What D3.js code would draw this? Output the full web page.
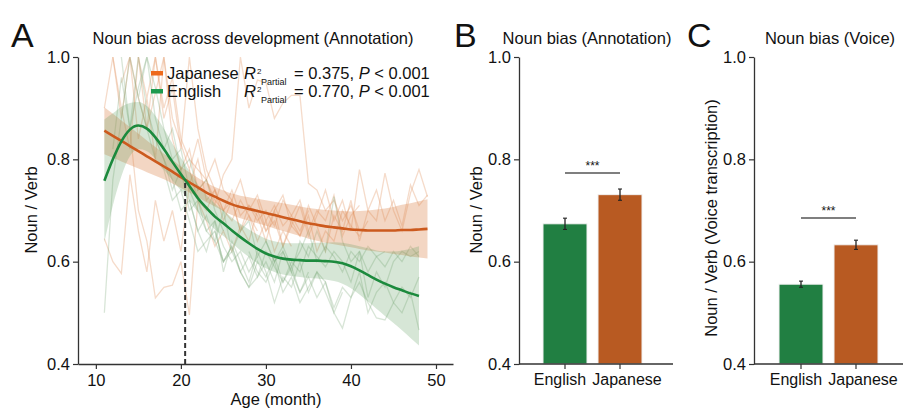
<!DOCTYPE html>
<html><head><meta charset="utf-8">
<script src="https://cdn.jsdelivr.net/npm/d3@7"></script>
<style>
body{margin:0;background:#fff}
svg{display:block}
text{font-family:"Liberation Sans",Arial,sans-serif;fill:#111}
</style>
</head><body>
<svg id="c" width="903" height="410"></svg>
<script>
// ---------------- DATA ----------------
const yTicks = [0.4, 0.6, 0.8, 1.0];
const ageTicks = [10, 20, 30, 40, 50];
const splitAge = 20.5;

// Japanese GAM fit, ages 11..49
const jpFitStart = 11;
const jpFit = [0.856,0.846,0.836,0.826,0.816,0.806,0.796,0.786,0.776,0.765,0.755,0.745,0.735,0.727,0.719,0.712,0.707,0.703,0.699,0.695,0.691,0.687,0.683,0.679,0.675,0.672,0.669,0.667,0.665,0.663,0.662,0.661,0.661,0.661,0.661,0.662,0.662,0.663,0.664];
const jpCI  = [0.046,0.043,0.040,0.037,0.034,0.031,0.028,0.025,0.023,0.021,0.020,0.019,0.019,0.019,0.020,0.021,0.022,0.023,0.024,0.025,0.026,0.027,0.028,0.029,0.030,0.031,0.032,0.033,0.034,0.035,0.037,0.039,0.041,0.043,0.046,0.049,0.052,0.055,0.058];

// English GAM fit, ages 11..48
const enFitStart = 11;
const enFit = [0.758,0.800,0.835,0.858,0.866,0.860,0.843,0.820,0.795,0.771,0.748,0.724,0.705,0.688,0.675,0.661,0.648,0.636,0.625,0.616,0.610,0.606,0.604,0.603,0.602,0.602,0.601,0.600,0.597,0.591,0.583,0.574,0.565,0.557,0.550,0.544,0.538,0.533];
const enCI  = [0.120,0.090,0.068,0.052,0.046,0.044,0.042,0.040,0.036,0.032,0.029,0.027,0.026,0.025,0.025,0.025,0.026,0.027,0.028,0.029,0.030,0.031,0.032,0.033,0.034,0.035,0.036,0.038,0.040,0.043,0.047,0.052,0.057,0.063,0.070,0.078,0.087,0.097];

// individual children (start age, monthly values)
const jpChildren = [
  {start: 11, values: [0.645,0.60,0.577,0.77,0.66,0.58,0.72,0.64,0.70,0.62,0.75,0.80,0.72,0.74,0.70,0.68,0.72,0.69,0.66]},
  {start: 11, values: [0.90,1.0,0.88,1.0,0.92,0.86,1.0,0.90,0.96,0.84,0.80,0.78,0.76,0.72,0.70,0.74,0.69,0.71,0.68,0.70,0.67,0.72,0.69,0.66,0.70]},
  {start: 12, values: [1.0,0.90,0.82,1.0,0.86,0.93,1.0,0.84,0.78,0.82,0.74,0.76,0.711,0.77,0.80,1.0,0.90,0.955,0.95,0.88,0.91,0.925,0.925,0.753,0.74,0.70,0.72,0.68,0.71,0.66]},
  {start: 13, values: [0.95,1.0,0.84,0.92,0.80,1.0,0.88,0.83,0.78,0.84,0.76,0.80,0.74,0.72,0.76,0.70,0.73,0.68,0.71,0.67,0.69,0.72,0.66,0.70,0.68,0.73,0.65,0.69,0.71]},
  {start: 14, values: [0.86,0.70,0.64,0.529,0.55,0.554,0.60,0.496,0.72,0.68,0.63,0.66,0.62,0.67,0.64,0.70,0.66,0.68,0.63,0.67,0.65,0.69,0.62,0.66,0.64,0.70,0.67,0.65,0.68]},
  {start: 21, values: [0.78,0.72,0.70,0.74,0.68,0.72,0.66,0.71,0.69,0.64,0.70,0.73,0.67,0.71,0.65,0.69,0.74,0.68,0.72,0.66,0.78,0.70,0.74,0.68,0.72,0.67,0.75,0.71,0.73]},
  {start: 29, values: [0.72,0.66,0.70,0.63,0.68,0.65,0.71,0.67,0.62,0.69,0.66,0.72,0.64,0.70,0.68,0.773,0.70,0.66,0.734,0.78,0.727]},
  {start: 15, values: [1.0,0.92,1.0,0.88,0.94,0.82,1.0,0.86,0.78,0.74,0.70,0.72,0.66,0.69,0.64,0.68,0.62,0.66,0.63]}
];
const enChildren = [
  {start: 11, values: [0.50,0.76,0.88,1.0,0.92,1.0,0.94,0.86,0.80,0.82,0.74,0.70,0.66,0.68,0.63,0.60,0.62,0.58,0.61]},
  {start: 12, values: [0.82,0.96,0.86,1.0,0.90,0.84,0.80,0.74,0.78,0.70,0.72,0.66,0.64,0.60,0.63,0.58,0.55,0.60,0.57,0.61,0.56,0.59,0.54,0.58]},
  {start: 15, values: [0.92,0.86,0.80,0.78,0.72,0.74,0.68,0.62,0.64,0.66,0.60,0.62,0.58,0.55,0.57,0.60,0.56,0.62,0.58,0.54,0.57,0.53,0.56,0.50,0.54]},
  {start: 17, values: [0.84,0.80,0.76,0.70,0.72,0.66,0.69,0.64,0.70,0.62,0.66,0.68,0.61,0.64,0.60,0.63,0.59,0.62,0.66,0.60,0.63,0.61,0.58,0.62,0.60,0.63,0.61,0.62]},
  {start: 21, values: [0.72,0.66,0.62,0.68,0.58,0.64,0.60,0.56,0.62,0.58,0.52,0.57,0.55,0.60,0.54,0.58,0.56,0.51,0.55,0.53,0.58,0.50,0.54,0.56,0.52,0.55,0.53,0.57]},
  {start: 24, values: [0.66,0.60,0.63,0.58,0.61,0.57,0.62,0.59,0.56,0.60,0.58,0.63,0.61,0.59,0.62,0.60,0.56,0.62,0.53,0.58,0.55,0.60,0.62,0.61,0.62]},
  {start: 28, values: [0.62,0.58,0.56,0.60,0.54,0.57,0.52,0.55,0.58,0.54,0.50,0.47,0.53,0.56,0.52,0.49,0.486,0.52,0.50,0.54,0.466]},
  {start: 30, values: [0.64,0.60,0.62,0.58,0.64,0.61,0.66,0.62,0.727,0.64,0.60,0.62,0.58,0.61,0.59,0.62,0.60,0.63,0.61]},
  {start: 13, values: [1.0,0.86,0.94,1.0,0.88,0.82,0.86,0.78,0.80,0.74,0.76,0.70,0.66]}
];

// bar panels
const languages = ["English", "Japanese"];
const annotMean = [0.674, 0.731];
const annotErr  = [0.011, 0.011];
const voiceMean = [0.556, 0.633];
const voiceErr  = [0.006, 0.009];

// ---------------- STYLE ----------------
const C = {
  jpFit: "#cc5a1e", enFit: "#1c8a3d",
  jpBand: "#dc8a52", enBand: "#5a9a5a",
  jpThin: "#e39b6d", enThin: "#7fa87a",
  jpLeg: "#ee6a1c", enLeg: "#1d9a4e",
  barEn: "#217f42", barJp: "#b85a22",
  axis: "#333"
};
const FS = 16.5;
const labelNudge = [-5, 7];
const svg = d3.select("#c");
const plotTop = 57, plotBottom = 364;
const y = d3.scaleLinear().domain([0.4, 1.0]).range([plotBottom, plotTop]);
const fmt = d3.format(".1f");

function styleAxis(g) {
  g.selectAll("path.domain").attr("stroke", C.axis).attr("stroke-width", 1.3);
  g.selectAll(".tick line").attr("stroke", C.axis).attr("stroke-width", 1.2);
  g.selectAll(".tick text").attr("font-size", FS).attr("fill", "#111")
    .attr("font-family", '"Liberation Sans",Arial,sans-serif');
}
function styleX(g) { styleAxis(g); g.selectAll(".tick text").attr("y", 10); }

// ---------------- PANEL A ----------------
const xA = d3.scaleLinear().domain([7.9, 52]).range([78, 453]);
svg.append("clipPath").attr("id", "clipA").append("rect")
  .attr("x", 78).attr("y", plotTop).attr("width", 453 - 78).attr("height", plotBottom - plotTop);
const gA = svg.append("g").attr("clip-path", "url(#clipA)");

const thin = d3.line().x(d => xA(d.a)).y(d => y(d.v));
function pts(start, vals) { return vals.map((v, i) => ({a: start + i, v})); }

jpChildren.forEach(c => gA.append("path").attr("d", thin(pts(c.start, c.values)))
  .attr("fill", "none").attr("stroke", C.jpThin).attr("stroke-opacity", 0.36).attr("stroke-width", 1.3));
enChildren.forEach(c => gA.append("path").attr("d", thin(pts(c.start, c.values)))
  .attr("fill", "none").attr("stroke", C.enThin).attr("stroke-opacity", 0.3).attr("stroke-width", 1.3));

function bandData(start, fit, ci) { return fit.map((v, i) => ({a: start + i, v, lo: v - ci[i], hi: v + ci[i]})); }
const jpB = bandData(jpFitStart, jpFit, jpCI);
const enB = bandData(enFitStart, enFit, enCI);
const area = d3.area().x(d => xA(d.a)).y0(d => y(d.lo)).y1(d => y(d.hi)).curve(d3.curveMonotoneX);
const fitLine = d3.line().x(d => xA(d.a)).y(d => y(d.v)).curve(d3.curveMonotoneX);

gA.append("path").attr("d", area(jpB)).attr("fill", C.jpBand).attr("fill-opacity", 0.35);
gA.append("path").attr("d", area(enB)).attr("fill", C.enBand).attr("fill-opacity", 0.25);
gA.append("path").attr("d", fitLine(jpB)).attr("fill", "none").attr("stroke", C.jpFit).attr("stroke-width", 2.6);
gA.append("path").attr("d", fitLine(enB)).attr("fill", "none").attr("stroke", C.enFit).attr("stroke-width", 2.6);

// dashed split line
const splitVal = (jpFit[9] + jpFit[10]) / 2;
svg.append("line").attr("x1", xA(splitAge)).attr("x2", xA(splitAge))
  .attr("y1", y(0.4)).attr("y2", y(splitVal))
  .attr("stroke", "#333").attr("stroke-width", 2).attr("stroke-dasharray", "5,3");

svg.append("g").attr("transform", "translate(78,0)")
  .call(d3.axisLeft(y).tickValues(yTicks).tickFormat(fmt).tickSize(5).tickSizeOuter(0)).call(styleAxis);
svg.append("g").attr("transform", `translate(0,${plotBottom})`)
  .call(d3.axisBottom(xA).tickValues(ageTicks).tickSize(5).tickSizeOuter(0)).call(styleX);

svg.append("text").attr("x", 11).attr("y", 47).attr("font-size", 34).text("A");
svg.append("text").attr("x", 253).attr("y", 44).attr("text-anchor", "middle").attr("font-size", FS)
  .text("Noun bias across development (Annotation)");
svg.append("text").attr("transform", "translate(37,210) rotate(-90)").attr("text-anchor", "middle")
  .attr("font-size", FS).text("Noun / Verb");
svg.append("text").attr("x", 276).attr("y", 405).attr("text-anchor", "middle").attr("font-size", FS)
  .text("Age (month)");

// legend
const legend = [
  {name: "Japanese", color: C.jpLeg, r2: "0.375", y: 79},
  {name: "English", color: C.enLeg, r2: "0.770", y: 97}
];
legend.forEach(l => {
  svg.append("rect").attr("x", 151).attr("y", l.y - 8).attr("width", 12).attr("height", 4.5).attr("fill", l.color);
  svg.append("text").attr("x", 167).attr("y", l.y).attr("font-size", FS).text(l.name);
  svg.append("text").attr("x", 244).attr("y", l.y).attr("font-size", FS).attr("font-style", "italic").text("R");
  svg.append("text").attr("x", 257).attr("y", l.y - 5).attr("font-size", 8).text("2");
  svg.append("text").attr("x", 261).attr("y", l.y + 6).attr("font-size", 9).text("Partial");
  const t = svg.append("text").attr("x", 294).attr("y", l.y).attr("font-size", FS);
  t.append("tspan").text("= " + l.r2 + ", ");
  t.append("tspan").attr("font-style", "italic").text("P");
  t.append("tspan").text(" < 0.001");
});

// ---------------- BAR PANELS ----------------
function barPanel(opts) {
  const x = d3.scaleBand().domain(languages).range([opts.r0, opts.r1]).paddingInner(0.2).paddingOuter(0.4);
  const g = svg.append("g");
  g.selectAll("rect.bar").data(languages).join("rect")
    .attr("x", d => x(d)).attr("width", x.bandwidth())
    .attr("y", (d, i) => y(opts.mean[i])).attr("height", (d, i) => y(0.4) - y(opts.mean[i]))
    .attr("fill", (d, i) => i === 0 ? C.barEn : C.barJp)
    .attr("stroke", "#f2f2f2").attr("stroke-width", 1);
  languages.forEach((d, i) => {
    const cx = x(d) + x.bandwidth() / 2;
    const lo = y(opts.mean[i] - opts.err[i]), hi = y(opts.mean[i] + opts.err[i]);
    g.append("line").attr("x1", cx).attr("x2", cx).attr("y1", lo).attr("y2", hi).attr("stroke", "#222").attr("stroke-width", 1.3);
    [lo, hi].forEach(yy => g.append("line").attr("x1", cx - 2).attr("x2", cx + 2).attr("y1", yy).attr("y2", yy)
      .attr("stroke", "#222").attr("stroke-width", 1.1));
  });
  const c0 = x(languages[0]) + x.bandwidth() / 2, c1 = x(languages[1]) + x.bandwidth() / 2;
  g.append("line").attr("x1", c0).attr("x2", c1).attr("y1", opts.sigY).attr("y2", opts.sigY)
    .attr("stroke", "#555").attr("stroke-width", 1.4);
  g.append("text").attr("x", (c0 + c1) / 2).attr("y", opts.sigY - 3).attr("text-anchor", "middle")
    .attr("font-size", 12).attr("fill", "#333").text("***");

  svg.append("g").attr("transform", `translate(${opts.ax},0)`)
    .call(d3.axisLeft(y).tickValues(yTicks).tickFormat(fmt).tickSize(5).tickSizeOuter(0)).call(styleAxis);
  const gx = svg.append("g").attr("transform", `translate(0,${plotBottom})`)
    .call(d3.axisBottom(x).tickSize(5).tickSizeOuter(0)).call(styleX);
  gx.select("path.domain").remove();
  gx.selectAll(".tick text").attr("dx", (d, i) => labelNudge[i]).attr("font-size", 16);
  svg.append("line").attr("x1", opts.ax).attr("x2", opts.xEnd).attr("y1", plotBottom).attr("y2", plotBottom)
    .attr("stroke", C.axis).attr("stroke-width", 1.3);

  svg.append("text").attr("x", opts.letterX).attr("y", 47).attr("font-size", 34).text(opts.letter);
  svg.append("text").attr("x", opts.titleX).attr("y", 44).attr("text-anchor", "middle").attr("font-size", FS).text(opts.title);
  svg.append("text").attr("transform", `translate(${opts.labX},${opts.labY}) rotate(-90)`).attr("text-anchor", "middle")
    .attr("font-size", FS).text(opts.ylabel);
}

barPanel({r0: 521, r1: 664, ax: 519, xEnd: 673, mean: annotMean, err: annotErr, sigY: 173,
  letter: "B", letterX: 454, title: "Noun bias (Annotation)", titleX: 587,
  ylabel: "Noun / Verb", labX: 482, labY: 210});
barPanel({r0: 757, r1: 900, ax: 754, xEnd: 903, mean: voiceMean, err: voiceErr, sigY: 218,
  letter: "C", letterX: 687, title: "Noun bias (Voice)", titleX: 830,
  ylabel: "Noun / Verb (Voice transcription)", labX: 717, labY: 218});
</script>
</body></html>
